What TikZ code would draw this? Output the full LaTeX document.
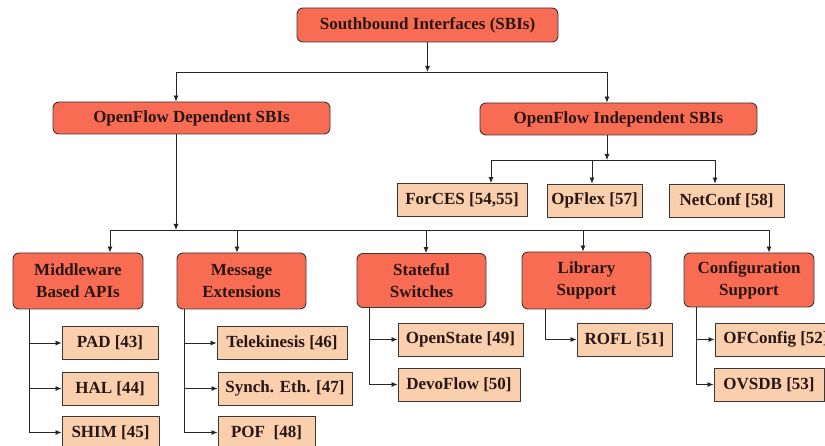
\documentclass[tikz,border=0pt]{standalone}
\usepackage{fontspec}
\setmainfont{Liberation Serif}
\usetikzlibrary{arrows.meta}
\definecolor{salmon}{RGB}{248,108,84}
\definecolor{peach}{RGB}{250,207,174}
\definecolor{edge}{RGB}{60,55,55}
\definecolor{ink}{RGB}{40,22,20}
\begin{document}
\begin{tikzpicture}[x=1pt,y=-1pt,
  every node/.style={font=\bfseries\fontsize{17}{22}\selectfont, text=ink, align=center, inner sep=0pt},
  mainbox/.style={draw=edge, line width=0.9pt, fill=salmon, rounded corners=6pt},
  leafbox/.style={draw=edge, line width=0.9pt, fill=peach},
  arr/.style={draw=black!85, line width=0.8pt, -{Latex[length=6pt,width=5pt]}},
  ln/.style={draw=black!85, line width=0.8pt}]
\useasboundingbox (0,0) rectangle (825,446);
\clip (0,0) rectangle (825,446);
\fill[white] (0,0) rectangle (825,446);
% top level
\node[mainbox, minimum width=261, minimum height=34] (sbi) at (427.5,25) {Southbound Interfaces (SBIs)};
\node[mainbox, minimum width=277, minimum height=32] (dep) at (191.5,118) {OpenFlow Dependent SBIs};
\node[mainbox, minimum width=277, minimum height=32] (ind) at (618.5,119) {OpenFlow Independent SBIs};
% independent children
\node[leafbox, minimum width=130, minimum height=33] (forces) at (462,200) {ForCES [54,55]};
\node[leafbox, minimum width=95, minimum height=33] (opflex) at (594.5,200.5) {OpFlex [57]};
\node[leafbox, minimum width=115, minimum height=33] (netconf) at (726.5,200.5) {NetConf [58]};
% categories
\node[mainbox, minimum width=130, minimum height=56] (mw) at (78,281) {Middleware\\Based APIs};
\node[mainbox, minimum width=129, minimum height=56] (msg) at (241.5,281) {Message\\Extensions};
\node[mainbox, minimum width=129, minimum height=54] (sf) at (421.5,280.5) {Stateful\\Switches};
\node[mainbox, minimum width=129, minimum height=57] (lib) at (586.5,280.5) {Library\\Support};
\node[mainbox, minimum width=130, minimum height=54] (cfg) at (749,280) {Configuration\\Support};
% leaves
\node[leafbox, minimum width=96, minimum height=33] (pad) at (110,343) {PAD [43]};
\node[leafbox, minimum width=96, minimum height=33] (hal) at (110,388.5) {HAL [44]};
\node[leafbox, minimum width=97, minimum height=33] (shim) at (110.5,432.5) {SHIM [45]};
\node[leafbox, minimum width=130, minimum height=33] (tele) at (282,343) {Telekinesis [46]};
\node[leafbox, minimum width=134, minimum height=33] (synch) at (285,388.5) {Synch. Eth. [47]};
\node[leafbox, minimum width=97, minimum height=33] (pof) at (266.5,432.5) {POF\ \ [48]};
\node[leafbox, minimum width=125, minimum height=33] (ostate) at (460.5,339.5) {OpenState [49]};
\node[leafbox, minimum width=122, minimum height=33] (devo) at (459,384.5) {DevoFlow [50]};
\node[leafbox, minimum width=95, minimum height=33] (rofl) at (624.5,339.5) {ROFL [51]};
\node[leafbox, minimum width=122, minimum height=33] (ofc) at (776,339.5) {OFConfig [52]};
\node[leafbox, minimum width=110, minimum height=33] (ovsdb) at (769,384.5) {OVSDB [53]};
% junction coordinates
\coordinate (b1) at (427.5,72);
\coordinate (b1l) at (176,72);
\coordinate (b1r) at (607,72);
\coordinate (d0) at (176,134);
\coordinate (b2) at (176,230);
\coordinate (b2l) at (110,230);
\coordinate (b2r) at (769,230);
\coordinate (i0) at (607,135);
\coordinate (b3) at (607,160);
\coordinate (b3l) at (491,160);
\coordinate (b3r) at (715,160);
\coordinate (mwv) at (29,309);
\coordinate (msgv) at (184,309);
\coordinate (sfv) at (369,307);
\coordinate (libv) at (545,309);
\coordinate (cfgv) at (696,307);
% connectors
\draw[arr] (sbi.south) -- (b1);
\draw[ln] (b1l) -- (b1r);
\draw[arr] (b1l) -- (b1l |- dep.north);
\draw[arr] (b1r) -- (b1r |- ind.north);
\draw[arr] (d0) -- (b2);
\draw[ln] (b2l) -- (b2r);
\draw[arr] (b2l) -- (b2l |- mw.north);
\draw[arr] (msg.north |- b2) ++(-4.5,0) coordinate (m1) -- (m1 |- msg.north);
\draw[arr] (sf.north |- b2) ++(4.5,0) coordinate (s1) -- (s1 |- sf.north);
\draw[arr] (lib.north |- b2) ++(-3.5,0) coordinate (l1) -- (l1 |- lib.north);
\draw[arr] (b2r) -- (b2r |- cfg.north);
\draw[arr] (i0) -- (b3);
\draw[ln] (b3l) -- (b3r);
\draw[arr] (b3l) -- (b3l |- forces.north);
\draw[arr] (opflex.north |- b3) ++(-2.5,0) coordinate (o1) -- (o1 |- opflex.north);
\draw[arr] (b3r) -- (b3r |- netconf.north);
\draw[arr] (mwv) |- (pad.west);
\draw[arr] (mwv) |- (hal.west);
\draw[arr] (mwv) |- (shim.west);
\draw[arr] (msgv) |- (tele.west);
\draw[arr] (msgv) |- (synch.west);
\draw[arr] (msgv) |- (pof.west);
\draw[arr] (sfv) |- (ostate.west);
\draw[arr] (sfv) |- (devo.west);
\draw[arr] (libv) |- (rofl.west);
\draw[arr] (cfgv) |- (ofc.west);
\draw[arr] (cfgv) |- (ovsdb.west);
\end{tikzpicture}
\end{document}
